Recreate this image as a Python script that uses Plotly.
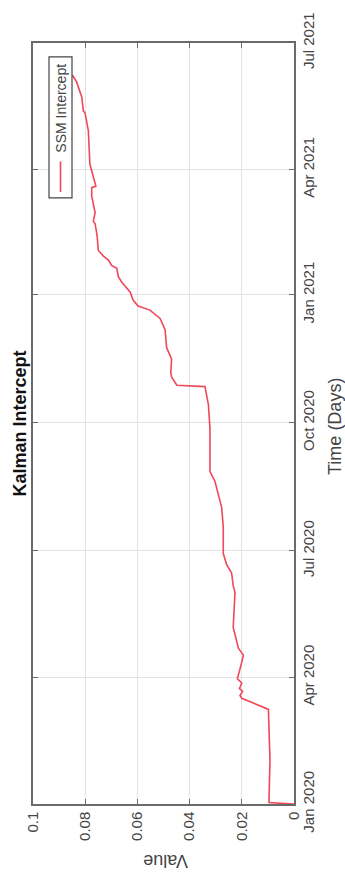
import plotly.graph_objects as go

# Data read from the (rotated) reference picture
dates = [
    "2020-01-01", "2020-01-02", "2020-02-01", "2020-03-01", "2020-03-09", "2020-03-17",
    "2020-03-19", "2020-03-22", "2020-03-24", "2020-03-28", "2020-03-31", "2020-04-12",
    "2020-04-17", "2020-04-22", "2020-04-26", "2020-05-07", "2020-06-01", "2020-06-06",
    "2020-06-15", "2020-06-21", "2020-06-29", "2020-07-18", "2020-08-01", "2020-08-06",
    "2020-08-20", "2020-08-27", "2020-09-27", "2020-10-14", "2020-10-27", "2020-10-28",
    "2020-11-03", "2020-11-06", "2020-11-16", "2020-11-24", "2020-12-07", "2020-12-15",
    "2020-12-21", "2020-12-24", "2020-12-28", "2021-01-03", "2021-01-10", "2021-01-14",
    "2021-01-20", "2021-01-22", "2021-01-26", "2021-01-29", "2021-02-02", "2021-02-12",
    "2021-02-21", "2021-02-23", "2021-03-01", "2021-03-13", "2021-03-19", "2021-03-20",
    "2021-03-27", "2021-04-05", "2021-04-29", "2021-05-06", "2021-05-12", "2021-05-13",
    "2021-05-23", "2021-06-03", "2021-06-07", "2021-06-08",
]
values = [
    0.0000, 0.0096, 0.0092, 0.0096, 0.0098, 0.0200,
    0.0207, 0.0197, 0.0209, 0.0200, 0.0217, 0.0200,
    0.0194, 0.0213, 0.0219, 0.0233, 0.0226, 0.0233,
    0.0239, 0.0258, 0.0271, 0.0271, 0.0277, 0.0284,
    0.0303, 0.0322, 0.0322, 0.0328, 0.0341, 0.0449,
    0.0469, 0.0472, 0.0469, 0.0488, 0.0494, 0.0513,
    0.0552, 0.0597, 0.0616, 0.0628, 0.0660, 0.0673,
    0.0679, 0.0698, 0.0711, 0.0731, 0.0750, 0.0754,
    0.0762, 0.0769, 0.0762, 0.0775, 0.0775, 0.0759,
    0.0769, 0.0782, 0.0788, 0.0794, 0.0801, 0.0807,
    0.0813, 0.0833, 0.0846, 0.0849,
]

time_tickvals = ["2020-01-01", "2020-04-01", "2020-07-01", "2020-10-01",
                 "2021-01-01", "2021-04-01", "2021-07-01"]
time_ticktext = ["Jan 2020", "Apr 2020", "Jul 2020", "Oct 2020",
                 "Jan 2021", "Apr 2021", "Jul 2021"]
value_tickvals = [0, 0.02, 0.04, 0.06, 0.08, 0.1]
value_ticktext = ["0", "0.02", "0.04", "0.06", "0.08", "0.1"]

series_name = "SSM Intercept"
title_text = "Kalman Intercept"
xlabel_text = "Time (Days)"
ylabel_text = "Value"

FONT = "Arial, Liberation Sans, sans-serif"
TXT = "#444444"
LINE_RED = "#f04858"

W, H = 345, 873
L, R, T, B = 33, 51, 33, 69
pw, ph = W - L - R, H - T - B


def px(x):
    return (x - L) / pw


def py(y):
    return (H - B - y) / ph


fig = go.Figure()
fig.add_trace(go.Scatter(
    x=values, y=dates, mode="lines", name=series_name,
    line=dict(color=LINE_RED, width=1.6), showlegend=False,
))

axis_common = dict(
    showline=True, linecolor="#6a6a6a", linewidth=1.5, mirror="ticks",
    ticks="inside", ticklen=5, tickwidth=1, tickcolor="#6a6a6a",
    showgrid=True, gridcolor="#e3e3e3", gridwidth=1, zeroline=False,
    tickfont=dict(family=FONT, size=15, color=TXT),
)

fig.update_layout(
    width=W, height=H,
    margin=dict(l=L, r=R, t=T, b=B),
    paper_bgcolor="white", plot_bgcolor="white",
    xaxis=dict(
        range=[0.1, 0], tickvals=value_tickvals, ticktext=value_ticktext,
        tickangle=-90, side="bottom", **axis_common,
    ),
    yaxis=dict(
        type="date", range=["2020-01-01", "2021-07-01"],
        tickvals=time_tickvals, ticktext=time_ticktext,
        tickangle=-90, side="right", **axis_common,
    ),
    showlegend=False,
)

# Title (left, reading bottom-to-top)
fig.add_annotation(x=px(19), y=0.5, xref="paper", yref="paper", text="<b>%s</b>" % title_text,
                   textangle=-90, showarrow=False, xanchor="center", yanchor="middle",
                   font=dict(family=FONT, size=18, color="#111"))
# Time axis label (right)
fig.add_annotation(x=px(335), y=py(422), xref="paper", yref="paper", text=xlabel_text,
                   textangle=-90, showarrow=False, xanchor="center", yanchor="middle",
                   font=dict(family=FONT, size=18, color=TXT))
# Value axis label (bottom, upside-down)
fig.add_annotation(x=px(166), y=py(861), xref="paper", yref="paper", text=ylabel_text,
                   textangle=180, showarrow=False, xanchor="center", yanchor="middle",
                   font=dict(family=FONT, size=18, color=TXT))

# Legend box (rotated)
fig.add_shape(type="rect", xref="paper", yref="paper",
              x0=px(49), x1=px(72), y0=py(190), y1=py(47),
              line=dict(color="#444", width=1.2), fillcolor="white", layer="above")
fig.add_shape(type="line", xref="paper", yref="paper",
              x0=px(60.5), x1=px(60.5), y0=py(184), y1=py(153),
              line=dict(color=LINE_RED, width=1.6), layer="above")
fig.add_annotation(x=px(61.5), y=py(99), xref="paper", yref="paper", text=series_name,
                   textangle=-90, showarrow=False, xanchor="center", yanchor="middle",
                   font=dict(family=FONT, size=14, color=TXT))

fig.write_html("out.html")
